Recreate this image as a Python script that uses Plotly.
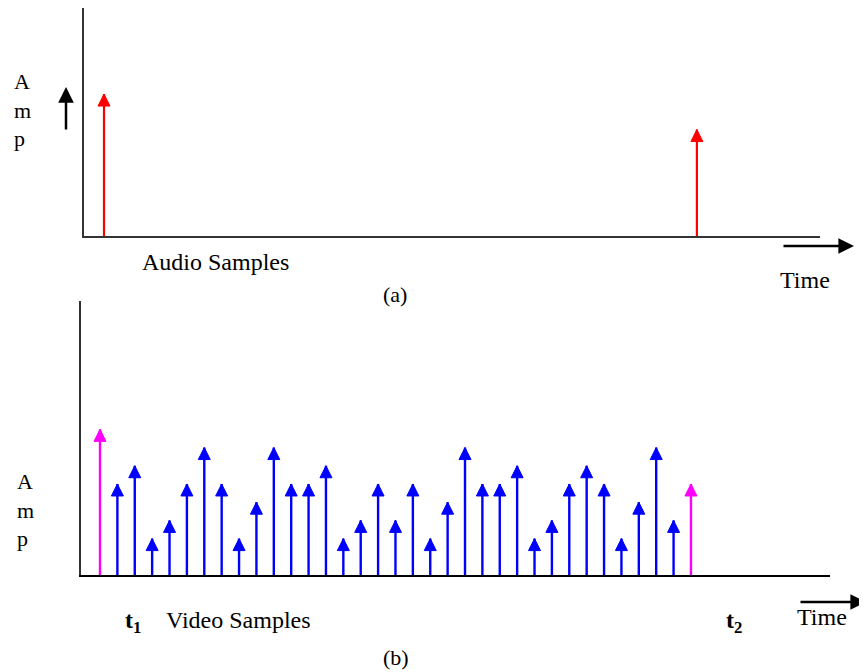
import plotly.graph_objects as go

# ---------------- data ----------------
audio_time = [0, 34]          # sample index on the common time grid
audio_amp = [8, 6]

video_time = list(range(35))
video_amp = [8, 5, 6, 2, 3, 5, 7, 5, 2, 4, 7, 5, 5, 6, 2, 3, 5, 3, 5, 2,
             4, 7, 5, 5, 6, 2, 3, 5, 6, 5, 2, 4, 7, 3, 5]
marker_idx = [0, 34]          # the two magenta samples at t1 and t2

OFF = 8                       # page body margin offset
W, H = 867 - OFF, 672 - OFF
FONT = "Liberation Serif, Times New Roman, serif"


def px(x):
    return min(1.0, max(0.0, (x - OFF) / W))


def py(y):
    return min(1.0, max(0.0, 1 - (y - OFF) / H))


def stems(xs, ys):
    sx, sy = [], []
    for x, y in zip(xs, ys):
        sx += [x, x, None]
        sy += [0, y, None]
    return sx, sy


fig = go.Figure()


def add_stems(xs, ys, col, width, xa, ya):
    sx, sy = stems(xs, ys)
    fig.add_trace(go.Scatter(x=sx, y=sy, mode="lines", xaxis=xa, yaxis=ya,
                             line=dict(color=col, width=width),
                             showlegend=False, hoverinfo="skip"))
    fig.add_trace(go.Scatter(x=xs, y=ys, mode="markers", xaxis=xa, yaxis=ya,
                             marker=dict(symbol="arrow-up", size=12, color=col, opacity=1,
                                         line=dict(width=1, color=col)),
                             showlegend=False, hoverinfo="skip"))


# audio stems (top panel)
add_stems(audio_time, audio_amp, "#ff0000", 2.2, "x", "y")

# video stems (bottom panel)
blue_t = [t for t in video_time if t not in marker_idx]
blue_a = [video_amp[t] for t in blue_t]
pink_t = [video_time[i] for i in marker_idx]
pink_a = [video_amp[i] for i in marker_idx]
add_stems(blue_t, blue_a, "#0000ff", 2.4, "x2", "y2")
add_stems(pink_t, pink_a, "#ff00ff", 2.4, "x2", "y2")

axis_common = dict(showgrid=False, zeroline=False, showticklabels=False, ticks="",
                   showline=True, linewidth=2, fixedrange=True)

fig.update_layout(
    width=W, height=H,
    margin=dict(l=0, r=0, t=0, b=0),
    paper_bgcolor="white", plot_bgcolor="white",
    xaxis=dict(domain=[px(84), px(820)], range=[-1.147, 41.06], anchor="y",
               linecolor="#333333", **axis_common),
    yaxis=dict(domain=[py(236), py(8)], range=[0, 12.85], anchor="x",
               linecolor="#333333", **axis_common),
    xaxis2=dict(domain=[px(81), px(830)], range=[-1.093, 42.0], anchor="y2",
                linecolor="#000000", **axis_common),
    yaxis2=dict(domain=[py(575), py(301)], range=[0, 15.05], anchor="x2",
                linecolor="#333333", **axis_common),
)

anns = []


def text(x, y, s, size=22, xanchor="center", align="center"):
    anns.append(dict(x=px(x), y=py(y), xref="paper", yref="paper", text=s,
                     showarrow=False, xanchor=xanchor, yanchor="middle", align=align,
                     font=dict(family=FONT, size=size, color="black")))


def arrow(x0, y0, x1, y1):
    anns.append(dict(x=(x1 - OFF) / W, y=1 - (y1 - OFF) / H, xref="paper", yref="paper", text="",
                     showarrow=True, ax=x0 - x1, ay=y0 - y1, axref="pixel", ayref="pixel",
                     arrowhead=2, arrowwidth=2.5, arrowsize=1.25, arrowcolor="black"))


# top panel texts
text(12, 110, "A<br>m<br>p", size=22, xanchor="left", align="left")
text(215, 262, "Audio Samples", size=24)
text(805, 280, "Time", size=24)
text(395, 294, "(a)", size=22)
arrow(66, 131, 66, 87)
arrow(782, 246, 854, 246)

# bottom panel texts
text(15, 510, "A<br>m<br>p", size=22, xanchor="left", align="left")
text(133, 622, "<b>t<sub>1</sub></b>", size=24)
text(238, 620, "Video Samples", size=24)
text(734, 622, "<b>t<sub>2</sub></b>", size=24)
text(822, 617, "Time", size=24)
text(396, 657, "(b)", size=22)
arrow(799, 602, 874, 602)

fig.update_layout(annotations=anns)
fig.write_html("out.html")
